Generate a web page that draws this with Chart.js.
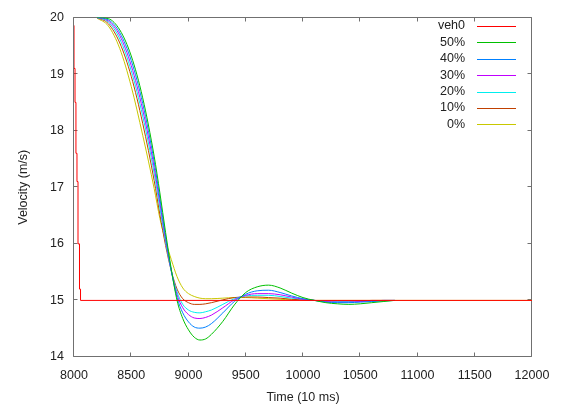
<!DOCTYPE html>
<html>
<head>
<meta charset="utf-8">
<script src="https://cdn.jsdelivr.net/npm/chart.js@4.4.0/dist/chart.umd.min.js"></script>
<style>
  html, body { margin: 0; padding: 0; background: #fff; }
  canvas { display: block; }
</style>
</head>
<body>
<canvas id="velocityChart" width="567" height="408"></canvas>
<script>
// time axis (10 ms units) shared by the controlled vehicles
const timeGrid = [8200, 8300, 8400, 8500, 8600, 8700, 8750, 8800, 8850, 8900, 8950, 9000, 9050, 9100, 9150, 9200,
                  9300, 9400, 9500, 9600, 9700, 9800, 9900, 10000, 10100, 10200, 10300, 10400, 10500, 10600, 10700, 10800];

// lead vehicle
const veh0Time  = [8000, 8009, 8017, 8026, 8035, 8048, 8057, 12000];
const veh0Speed = [19.86, 19.1, 18.5, 17.6, 17.1, 16.0, 15.2, 15.0];

const speed50 = [20.00, 19.98, 19.78, 19.32, 18.58, 17.55, 16.90, 16.20, 15.55, 15.00, 14.68, 14.48, 14.35, 14.30, 14.32, 14.40,
                 14.63, 14.92, 15.14, 15.24, 15.27, 15.22, 15.13, 15.05, 15.00, 14.96, 14.94, 14.93, 14.94, 14.96, 14.98, 15.00];
const speed40 = [20.00, 19.96, 19.73, 19.24, 18.48, 17.45, 16.80, 16.13, 15.52, 15.05, 14.78, 14.62, 14.53, 14.51, 14.53, 14.59,
                 14.78, 14.98, 15.11, 15.17, 15.18, 15.14, 15.08, 15.03, 15.00, 14.97, 14.96, 14.96, 14.97, 14.98, 14.99, 15.00];
const speed30 = [20.00, 19.94, 19.68, 19.15, 18.37, 17.35, 16.72, 16.08, 15.52, 15.10, 14.87, 14.75, 14.69, 14.68, 14.70, 14.74,
                 14.87, 15.01, 15.09, 15.12, 15.12, 15.10, 15.06, 15.02, 15.00, 14.98, 14.97, 14.97, 14.98, 14.99, 15.00, 15.00];
const speed20 = [20.00, 19.92, 19.62, 19.06, 18.26, 17.25, 16.63, 16.03, 15.52, 15.15, 14.93, 14.83, 14.79, 14.78, 14.80, 14.83,
                 14.93, 15.03, 15.08, 15.09, 15.09, 15.07, 15.04, 15.02, 15.00, 14.99, 14.98, 14.98, 14.99, 14.99, 15.00, 15.00];
const speed10 = [20.00, 19.89, 19.55, 18.96, 18.13, 17.12, 16.52, 15.97, 15.52, 15.20, 15.03, 14.96, 14.93, 14.93, 14.94, 14.96,
                 15.01, 15.05, 15.06, 15.06, 15.05, 15.04, 15.02, 15.01, 15.00, 14.99, 14.99, 14.99, 14.99, 15.00, 15.00, 15.00];
const speed0  = [19.99, 19.85, 19.45, 18.78, 17.92, 16.98, 16.45, 16.05, 15.72, 15.42, 15.22, 15.12, 15.07, 15.04, 15.03, 15.03,
                 15.04, 15.05, 15.05, 15.04, 15.03, 15.02, 15.01, 15.01, 15.00, 15.00, 15.00, 15.00, 15.00, 15.00, 15.00, 15.00];
const speed0TailTime  = [12000];
const speed0TailSpeed = [15.00];

const xTicks = { min: 8000, max: 12000, step: 500 };
const yTicks = { min: 14, max: 20, step: 1 };

const fontFamily = '"Liberation Sans", Arial, sans-serif';
const textColor = '#222';

function toPoints(xs, ys) {
  return xs.map((x, i) => ({ x: x, y: ys[i] }));
}

function series(label, color, xs, ys) {
  return {
    label: label,
    data: toPoints(xs, ys),
    borderColor: color,
    backgroundColor: color,
    borderWidth: 1,
    pointRadius: 0,
    fill: false,
    cubicInterpolationMode: 'monotone'
  };
}

const datasets = [
  Object.assign(series('veh0', '#ff0000', veh0Time, veh0Speed), { stepped: 'after', cubicInterpolationMode: 'default' }),
  series('50%', '#00c000', timeGrid, speed50),
  series('40%', '#0080ff', timeGrid, speed40),
  series('30%', '#c000ff', timeGrid, speed30),
  series('20%', '#00eeee', timeGrid, speed20),
  series('10%', '#c04000', timeGrid, speed10),
  series('0%', '#c8c800', timeGrid.concat(speed0TailTime), speed0.concat(speed0TailSpeed))
];

// gnuplot style frame with inward ticks, plus a legend inside the plot
const gnuplotFrame = {
  id: 'gnuplotFrame',
  beforeDatasetsDraw(chart) {
    const ctx = chart.ctx;
    const a = chart.chartArea;
    const xs = chart.scales.x, ys = chart.scales.y;
    const L = Math.round(a.left) - 0.5, R = Math.round(a.right) - 0.5;
    const T = Math.round(a.top) - 0.5, B = Math.round(a.bottom) - 0.5;
    ctx.save();
    ctx.strokeStyle = '#707070';
    ctx.lineWidth = 1;
    ctx.beginPath();
    ctx.rect(L, T, R - L, B - T);
    xs.ticks.forEach(t => {
      const px = Math.round(xs.getPixelForValue(t.value)) - 0.5;
      ctx.moveTo(px, B); ctx.lineTo(px, B - 4);
      ctx.moveTo(px, T); ctx.lineTo(px, T + 4);
    });
    ys.ticks.forEach(t => {
      const py = Math.round(ys.getPixelForValue(t.value)) - 0.5;
      ctx.moveTo(L, py); ctx.lineTo(L + 4, py);
      ctx.moveTo(R, py); ctx.lineTo(R - 4, py);
    });
    ctx.stroke();
    ctx.restore();
  },
  afterDraw(chart) {
    const ctx = chart.ctx;
    ctx.save();
    ctx.font = '12.5px ' + fontFamily;
    ctx.textAlign = 'right';
    ctx.textBaseline = 'middle';
    chart.data.datasets.forEach((ds, i) => {
      const y = 26 + i * 16.4;
      ctx.fillStyle = textColor;
      ctx.fillText(ds.label, 465, y);
      ctx.strokeStyle = ds.borderColor;
      ctx.lineWidth = 1;
      ctx.beginPath();
      ctx.moveTo(477, Math.round(y) + 0.5);
      ctx.lineTo(516, Math.round(y) + 0.5);
      ctx.stroke();
    });
    ctx.restore();
  }
};

const config = {
  type: 'line',
  data: { datasets: datasets },
  options: {
    responsive: false,
    animation: false,
    devicePixelRatio: 1,
    layout: { padding: { left: 0, right: 35, top: 14, bottom: 0 } },
    plugins: {
      legend: { display: false },
      tooltip: { enabled: false }
    },
    scales: {
      x: {
        type: 'linear',
        min: xTicks.min,
        max: xTicks.max,
        grid: { display: false, drawTicks: false },
        border: { display: false },
        ticks: {
          stepSize: xTicks.step,
          padding: 11,
          color: textColor,
          font: { family: fontFamily, size: 12.5 },
          maxRotation: 0,
          callback: v => String(v)
        },
        title: {
          display: true,
          text: 'Time (10 ms)',
          color: textColor,
          font: { family: fontFamily, size: 12.5 },
          padding: { top: 0, bottom: 2.5 }
        },
        afterFit: s => { s.height = 51; }
      },
      y: {
        min: yTicks.min,
        max: yTicks.max,
        grid: { display: false, drawTicks: false },
        border: { display: false },
        ticks: {
          stepSize: yTicks.step,
          padding: 10,
          color: textColor,
          font: { family: fontFamily, size: 12.5 }
        },
        title: {
          display: true,
          text: 'Velocity (m/s)',
          color: textColor,
          font: { family: fontFamily, size: 12.5 },
          padding: { top: 16.5, bottom: 0 }
        },
        afterFit: s => { s.width = 74; }
      }
    }
  },
  plugins: [gnuplotFrame]
};

var velocityChart = new Chart(
  document.getElementById('velocityChart').getContext('2d'),
  config
);
</script>
</body>
</html>
